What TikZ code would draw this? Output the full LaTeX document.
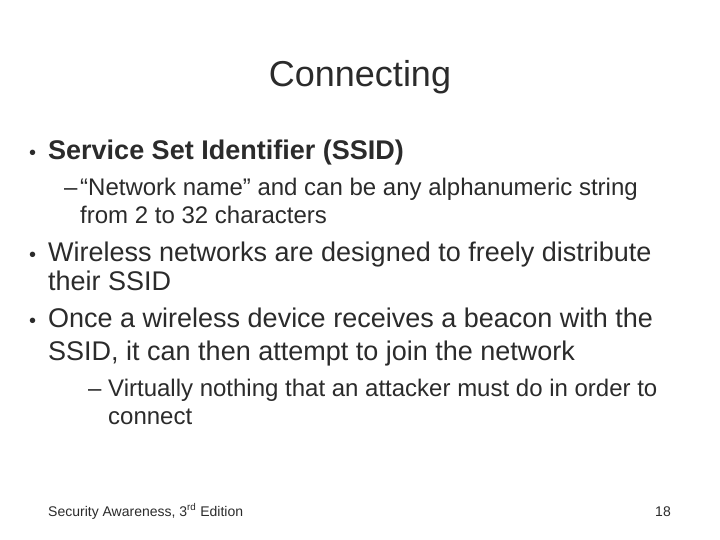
\documentclass[tikz,border=0pt]{standalone}
\usepackage{fontspec}
\setmainfont{Liberation Sans}
\definecolor{tx}{HTML}{2B2B2B}
\begin{document}
\begin{tikzpicture}[x=1pt,y=-1pt,
  t/.style={anchor=base west,inner sep=0pt,text=tx,font=\fontsize{27}{32}\selectfont},
  bl/.style={anchor=base west,inner sep=0pt,text=tx,font=\fontsize{20}{24}\selectfont},
  s/.style={anchor=base west,inner sep=0pt,text=tx,font=\fontsize{24}{28}\selectfont}]
\useasboundingbox[fill=white] (0,0) rectangle (720,540);
\node[anchor=base,inner sep=0pt,text=tx,font=\fontsize{36}{40}\selectfont] (title) at (360,87) {Connecting};
\node[bl] (b1) at (29,160) {•};
\node[t] (t1) at (48,160) {\textbf{Service Set Identifier (SSID)}};
\node[s] (d1) at (64,196) {–};
\node[s] (u1) at (80,196) {``Network name'' and can be any alphanumeric string};
\node[s] (u1b) at (80,223) {from 2 to 32 characters};
\node[bl] (b2) at (29,261) {•};
\node[t] (t2) at (48,261) {Wireless networks are designed to freely distribute};
\node[t] (t2b) at (48,290) {their SSID};
\node[bl] (b3) at (29,327) {•};
\node[t] (t3) at (48,327) {Once a wireless device receives a beacon with the};
\node[t] (t3b) at (48,360) {SSID, it can then attempt to join the network};
\node[s] (d2) at (88,396) {–};
\node[s] (u2) at (108,396) {Virtually nothing that an attacker must do in order to};
\node[s] (u2b) at (108,424) {connect};
\node[anchor=base west,inner sep=0pt,text=tx,font=\fontsize{14}{16}\selectfont] (f) at (48,516) {Security Awareness, 3\textsuperscript{rd} Edition};
\node[anchor=base east,inner sep=0pt,text=tx,font=\fontsize{14}{16}\selectfont] (p) at (671,516) {18};
\end{tikzpicture}
\end{document}
